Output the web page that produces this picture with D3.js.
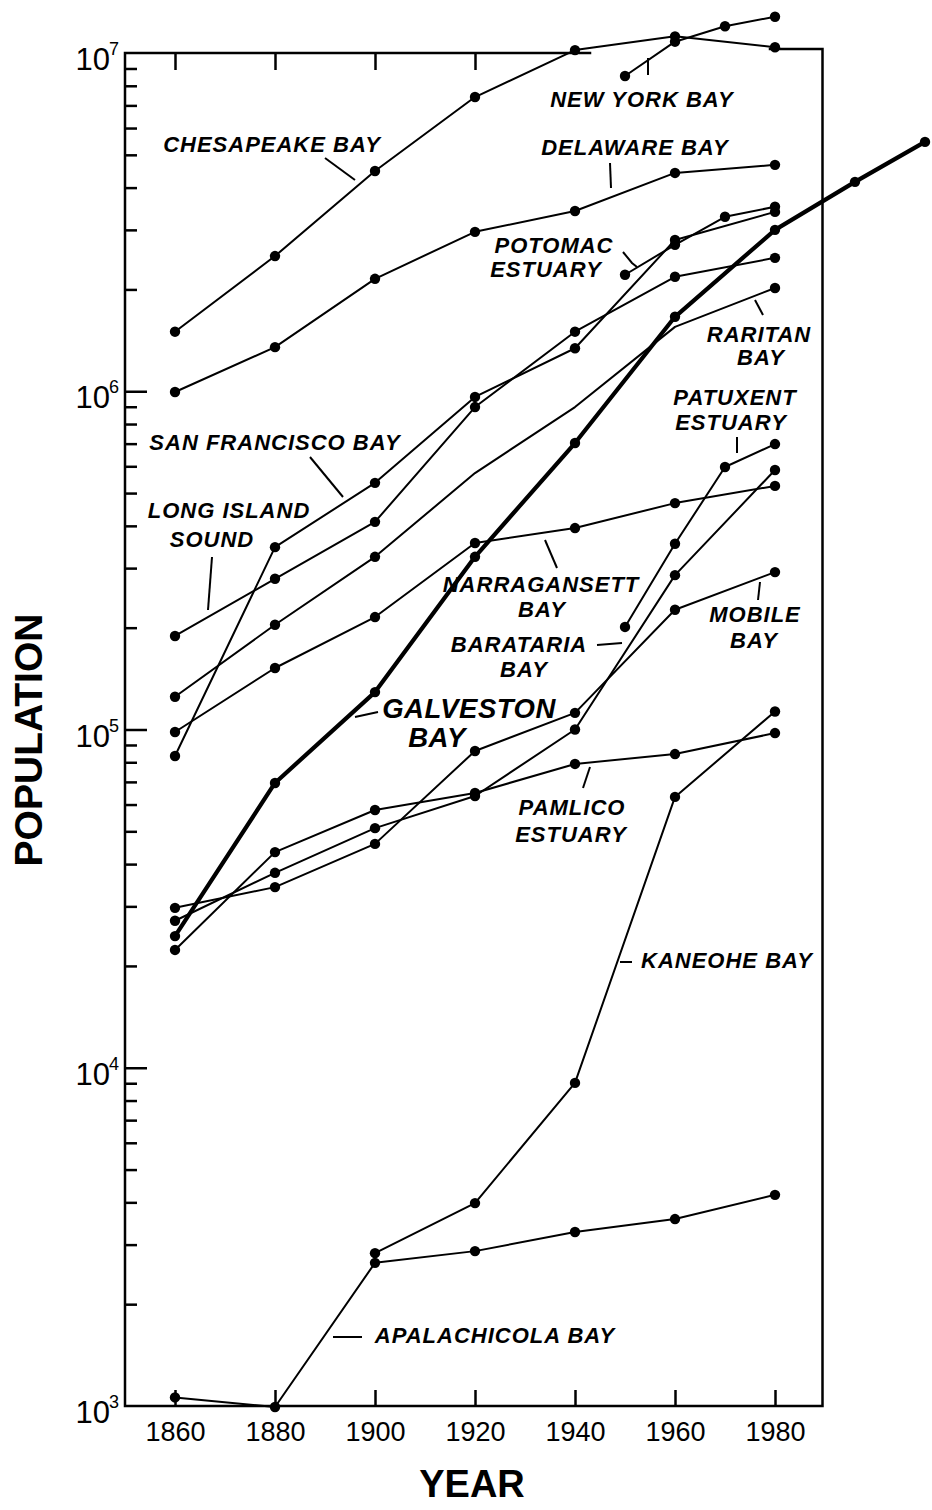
<!DOCTYPE html>
<html><head><meta charset="utf-8">
<script src="https://cdn.jsdelivr.net/npm/d3@7"></script>
<style>
html,body{margin:0;padding:0;background:#fff;}
svg{display:block;}
</style></head><body>
<svg id="chart" width="932" height="1510"></svg>
<script>
// ---------------- DATA ----------------
const years = [1860, 1880, 1900, 1920, 1940, 1960, 1980];
const lateYears = [1950, 1960, 1970, 1980];
const kaneoheYears = [1900, 1920, 1940, 1960, 1980];
const galvestonYears = [1860, 1880, 1900, 1920, 1940, 1960, 1980, 1996, 2010];
const raritanMarkerYears = [1860, 1880, 1900, 1980];

const chesapeake   = [1.50e6, 2.51e6, 4.48e6, 7.41e6, 1.02e7, 1.12e7, 1.04e7];
const newYork      = [8.55e6, 1.08e7, 1.20e7, 1.28e7];
const delaware     = [9.95e5, 1.35e6, 2.15e6, 2.96e6, 3.41e6, 4.42e6, 4.67e6];
const potomac      = [2.21e6, 2.71e6, 3.28e6, 3.51e6];
const sanFrancisco = [8.35e4, 3.46e5, 5.36e5, 9.62e5, 1.34e6, 2.80e6, 3.39e6];
const longIsland   = [1.89e5, 2.79e5, 4.11e5, 8.98e5, 1.50e6, 2.18e6, 2.48e6];
const raritan      = [1.25e5, 2.04e5, 3.24e5, 5.73e5, 8.98e5, 1.55e6, 2.02e6];
const narragansett = [9.83e4, 1.52e5, 2.15e5, 3.56e5, 3.94e5, 4.67e5, 5.25e5];
const patuxent     = [2.01e5, 3.54e5, 5.97e5, 6.98e5];
const galveston    = [2.45e4, 6.95e4, 1.29e5, 3.24e5, 7.03e5, 1.66e6, 3.00e6, 4.16e6, 5.46e6];
const mobile       = [2.97e4, 3.42e4, 4.59e4, 8.64e4, 1.12e5, 2.26e5, 2.92e5];
const barataria    = [2.72e4, 3.77e4, 5.11e4, 6.36e4, 1.00e5, 2.86e5, 5.85e5];
const pamlico      = [2.23e4, 4.34e4, 5.78e4, 6.49e4, 7.91e4, 8.46e4, 9.76e4];
const kaneohe      = [2.83e3, 3.98e3, 9.02e3, 6.32e4, 1.13e5];
const apalachicola = [1.06e3, 993, 2.65e3, 2.87e3, 3.27e3, 3.57e3, 4.21e3];

const xTickValues = [1860, 1880, 1900, 1920, 1940, 1960, 1980];
const topTickValues = [1860, 1880, 1900, 1920];
const yDecades = [1e3, 1e4, 1e5, 1e6, 1e7];
const yExponents = ["3", "4", "5", "6", "7"];

// ---------------- CHART ----------------
const FONT = '"Liberation Sans", Arial, Helvetica, sans-serif';
const svg = d3.select("#chart");
const x = d3.scaleLinear().domain([1850, 1990]).range([125, 825]);
const y = d3.scaleLog().domain([1e3, 1e7]).range([1406, 53]);
const xRight = x(1989.5);

const series = [
  {name: "Chesapeake Bay", yrs: years, vals: chesapeake},
  {name: "New York Bay", yrs: lateYears, vals: newYork},
  {name: "Delaware Bay", yrs: years, vals: delaware},
  {name: "Potomac Estuary", yrs: lateYears, vals: potomac},
  {name: "San Francisco Bay", yrs: years, vals: sanFrancisco},
  {name: "Long Island Sound", yrs: years, vals: longIsland},
  {name: "Raritan Bay", yrs: years, vals: raritan, marks: raritanMarkerYears},
  {name: "Narragansett Bay", yrs: years, vals: narragansett},
  {name: "Patuxent Estuary", yrs: lateYears, vals: patuxent},
  {name: "Galveston Bay", yrs: galvestonYears, vals: galveston},
  {name: "Mobile Bay", yrs: years, vals: mobile},
  {name: "Barataria Bay", yrs: years, vals: barataria},
  {name: "Pamlico Estuary", yrs: years, vals: pamlico},
  {name: "Kaneohe Bay", yrs: kaneoheYears, vals: kaneohe},
  {name: "Apalachicola Bay", yrs: years, vals: apalachicola}
];
const thick = new Set(["Galveston Bay"]);

// frame
const fr = svg.append("g").attr("stroke", "#000").attr("stroke-width", 2.5).attr("fill", "none")
  .attr("stroke-linecap", "square");
fr.append("path").attr("d", `M${x(1943)},${y(1e7)}H${x(1850)}V${y(1e3)}H${xRight}V${y(1e7) - 4}H${x(1979)}`);

function styleAxis(g) {
  g.select(".domain").remove();
  g.selectAll(".tick line").attr("stroke", "#000").attr("stroke-width", 2.5);
  g.attr("font-family", FONT);
}

// bottom ticks + labels
svg.append("g").attr("transform", `translate(0,${y(1e3)})`)
  .call(d3.axisBottom(x).tickValues(xTickValues).tickFormat(d3.format("d")).tickSize(-16).tickPadding(16))
  .call(styleAxis)
  .call(g => g.selectAll("text").attr("font-size", 27).attr("fill", "#000"));

// top ticks
svg.append("g").attr("transform", `translate(0,${y(1e7)})`)
  .call(d3.axisTop(x).tickValues(topTickValues).tickFormat("").tickSize(-17))
  .call(styleAxis);

// y minor ticks
const minor = [];
yDecades.slice(0, -1).forEach(d => { for (let k = 2; k <= 9; k++) minor.push(d * k); });
svg.append("g").attr("transform", `translate(${x(1850)},0)`)
  .call(d3.axisLeft(y).tickValues(minor).tickFormat("").tickSize(-12))
  .call(styleAxis);
svg.append("g").attr("transform", `translate(${x(1850)},0)`)
  .call(d3.axisLeft(y).tickValues(yDecades.slice(1, -1)).tickFormat("").tickSize(-22))
  .call(styleAxis);

// y labels 10^n
const yl = svg.append("g").attr("font-family", FONT).attr("fill", "#000");
yDecades.forEach((d, i) => {
  yl.append("text").attr("x", 110).attr("y", y(d) + 17).attr("text-anchor", "end")
    .attr("font-size", 31).text("10");
  yl.append("text").attr("x", 109).attr("y", y(d) + 2).attr("font-size", 18).text(yExponents[i]);
});

// axis titles
svg.append("text").attr("x", 472).attr("y", 1497).attr("text-anchor", "middle")
  .attr("font-family", FONT).attr("font-weight", "bold").attr("font-size", 38).text("YEAR");
svg.append("text").attr("transform", "translate(42,740) rotate(-90)").attr("text-anchor", "middle")
  .attr("font-family", FONT).attr("font-weight", "bold").attr("font-size", 39).text("POPULATION");

// lines
const line = d3.line().x(d => x(d[0])).y(d => y(d[1]));
const gl = svg.append("g").attr("fill", "none").attr("stroke", "#000").attr("stroke-linejoin", "round");
series.forEach(s => {
  const pts = s.yrs.map((yr, i) => [yr, s.vals[i]]);
  gl.append("path").attr("d", line(pts)).attr("stroke-width", thick.has(s.name) ? 4.2 : 2);
});
// markers
const gm = svg.append("g").attr("fill", "#000");
series.forEach(s => {
  const pts = s.yrs.map((yr, i) => [yr, s.vals[i]]).filter(p => !s.marks || s.marks.includes(p[0]));
  gm.selectAll(null).data(pts).enter().append("circle")
    .attr("cx", d => x(d[0])).attr("cy", d => y(d[1])).attr("r", 5.2);
});

// labels (annotation layout)
const labels = [
  {lines: [["CHESAPEAKE BAY", 272, 152]]},
  {lines: [["NEW YORK BAY", 642, 107]]},
  {lines: [["DELAWARE BAY", 635, 155]]},
  {lines: [["POTOMAC", 554, 253], ["ESTUARY", 546, 277]]},
  {lines: [["RARITAN", 759, 342], ["BAY", 761, 365]]},
  {lines: [["SAN FRANCISCO BAY", 275, 450]]},
  {lines: [["LONG ISLAND", 229, 518], ["SOUND", 212, 547]]},
  {lines: [["PATUXENT", 735, 405], ["ESTUARY", 731, 430]]},
  {lines: [["NARRAGANSETT", 541, 592], ["BAY", 542, 617]]},
  {lines: [["BARATARIA", 519, 652], ["BAY", 524, 677]]},
  {lines: [["MOBILE", 755, 622], ["BAY", 754, 648]]},
  {lines: [["GALVESTON", 469, 718], ["BAY", 437, 747]], big: true},
  {lines: [["PAMLICO", 572, 815], ["ESTUARY", 571, 842]]},
  {lines: [["KANEOHE BAY", 727, 968]]},
  {lines: [["APALACHICOLA BAY", 495, 1343]]}
];
const leaders = [
  [[325,158],[355,180]], [[648,58],[648,75]], [[610,163],[611,188]],
  [[623,252],[632,263],[637,267]], [[755,300],[763,315]], [[310,457],[343,497]],
  [[212,557],[208,610]], [[737,437],[737,453]], [[545,540],[557,568]],
  [[597,645],[622,643]], [[760,582],[758,600]], [[355,717],[378,712]],
  [[590,767],[583,788]], [[620,962],[632,962]], [[333,1337],[362,1337]]
];
const ga = svg.append("g").attr("font-family", FONT).attr("font-weight", "bold")
  .attr("font-style", "italic").attr("fill", "#000").attr("text-anchor", "middle");
labels.forEach(l => {
  l.lines.forEach(([t, cx, by]) => {
    ga.append("text").attr("x", cx).attr("y", by)
      .attr("font-size", l.big ? 27.5 : 22).attr("letter-spacing", l.big ? 0.5 : 1).text(t);
  });
});
const gLead = svg.append("g").attr("fill", "none").attr("stroke", "#000").attr("stroke-width", 2);
leaders.forEach(p => gLead.append("path").attr("d", d3.line()(p)));
</script>
</body></html>
